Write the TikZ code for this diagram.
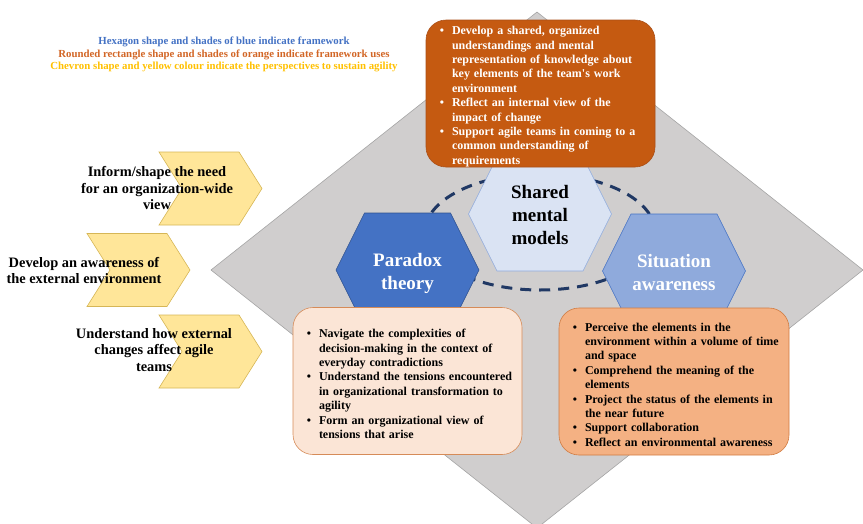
\documentclass[tikz,border=0pt]{standalone}
\usepackage{fontspec}
\setmainfont{Liberation Serif}
\usepackage{enumitem}
\usepackage{tikz}

\definecolor{diamondgray}{RGB}{208,206,206}
\definecolor{diamondline}{RGB}{165,165,165}
\definecolor{darkblue}{RGB}{68,114,196}
\definecolor{darkblueline}{RGB}{47,82,143}
\definecolor{midblue}{RGB}{143,170,220}
\definecolor{paleblue}{RGB}{218,227,243}
\definecolor{navy}{RGB}{32,56,100}
\definecolor{rust}{RGB}{197,90,17}
\definecolor{rustline}{RGB}{170,80,25}
\definecolor{peach}{RGB}{251,229,214}
\definecolor{salmon}{RGB}{244,177,131}
\definecolor{chevronfill}{RGB}{255,230,153}
\definecolor{chevronline}{RGB}{214,182,86}
\definecolor{legendorange}{RGB}{210,102,38}
\definecolor{legendyellow}{RGB}{255,192,0}

\setlist[itemize]{label=\textbullet, leftmargin=24pt, labelsep=8pt, topsep=0pt,
	partopsep=0pt, itemsep=0pt, parsep=0pt}

\newcommand{\drawhexagon}[3]{% x, y, style
	\draw[#3] (#1 - 71.5, #2) -- (#1 - 43, #2 - 57) -- (#1 + 43, #2 - 57)
		-- (#1 + 71.5, #2) -- (#1 + 43, #2 + 57) -- (#1 - 43, #2 + 57) -- cycle;
}

\newcommand{\drawchevron}[2]{% x, y
	\draw[chevronshape] (#1, #2 - 36.5) -- (#1 + 80, #2 - 36.5) -- (#1 + 103, #2)
		-- (#1 + 80, #2 + 36.5) -- (#1, #2 + 36.5) -- (#1 + 23, #2) -- cycle;
}

\begin{document}
\begin{tikzpicture}[x=1pt, y=-1pt,
	chevronshape/.style={fill=chevronfill, draw=chevronline, line width=0.6pt},
	hexlabel/.style={font=\fontsize{19}{23}\selectfont\bfseries, align=center},
	chevronlabel/.style={font=\fontsize{14.4}{16.5}\selectfont\bfseries, align=center},
	legendline/.style={font=\fontsize{10.8}{12.5}\selectfont\bfseries},
	usesbox/.style={rounded corners=20pt, line width=0.6pt, inner xsep=2pt, inner ysep=0pt,
		minimum height=147pt, font=\fontsize{12}{14.4}\selectfont\bfseries}]

\useasboundingbox (0, 0) rectangle (863, 523);

% background diamond and ring
\draw[fill=diamondgray, draw=diamondline, line width=0.6pt]
	(537, 12) -- (863, 270) -- (537, 528) -- (211, 270) -- cycle;
\draw[navy, line width=3pt, dash pattern=on 11pt off 8pt] (540, 232) ellipse [x radius=115pt, y radius=58pt];

% framework hexagons
\drawhexagon{540}{214}{fill=paleblue, draw=midblue, line width=0.6pt};
\drawhexagon{407.5}{270}{fill=darkblue, draw=darkblueline, line width=0.6pt};
\drawhexagon{674}{271}{fill=midblue, draw=darkblue, line width=0.6pt};
\node[hexlabel] (smm) at (540, 215) {Shared\\mental\\models};
\node[hexlabel, text=white] (paradox) at (407.5, 273) {Paradox\\theory};
\node[hexlabel, text=white] (situation) at (674, 272) {Situation\\awareness};

% framework uses
\node[usesbox, fill=rust, draw=rustline, text=white, minimum width=229pt, text width=225pt]
	(smmuses) at (540.5, 93.5) {\begin{itemize}
	\item Develop a shared, organized\\ understandings and mental\\ representation of knowledge about\\ key elements of the team\textquotesingle s work\\ environment
	\item Reflect an internal view of the\\ impact of change
	\item Support agile teams in coming to a\\ common understanding of\\ requirements
	\end{itemize}};
\node[usesbox, fill=peach, draw=rust!70, minimum width=229pt, text width=225pt]
	(paradoxuses) at (407.5, 381) {\begin{itemize}
	\item Navigate the complexities of\\ decision-making in the context of\\ everyday contradictions
	\item Understand the tensions encountered\\ in organizational transformation to\\ agility
	\item Form an organizational view of\\ tensions that arise
	\end{itemize}};
\node[usesbox, fill=salmon, draw=rust!80, minimum width=230pt, text width=226pt]
	(situationuses) at (674, 381.5) {\begin{itemize}
	\item Perceive the elements in the\\ environment within a volume of time\\ and space
	\item Comprehend the meaning of the\\ elements
	\item Project the status of the elements in\\ the near future
	\item Support collaboration
	\item Reflect an environmental awareness
	\end{itemize}};

% perspectives
\drawchevron{159}{188.5};
\drawchevron{87}{270};
\drawchevron{159}{351.5};
\node[chevronlabel] (orgview) at (157, 188) {Inform/shape the need\\for an organization-wide\\view};
\node[chevronlabel] (external) at (84, 270.5) {Develop an awareness of\\the external environment};
\node[chevronlabel] (changes) at (154, 350) {Understand how external\\changes affect agile\\teams};

% legend
\node[legendline, text=darkblue] (legendhex) at (224, 42) {Hexagon shape and shades of blue indicate framework};
\node[legendline, text=legendorange] (legendbox) at (224, 54.5) {Rounded rectangle shape and shades of orange indicate framework uses};
\node[legendline, text=legendyellow] (legendchevron) at (224, 67) {Chevron shape and yellow colour indicate the perspectives to sustain agility};

\end{tikzpicture}
\end{document}
